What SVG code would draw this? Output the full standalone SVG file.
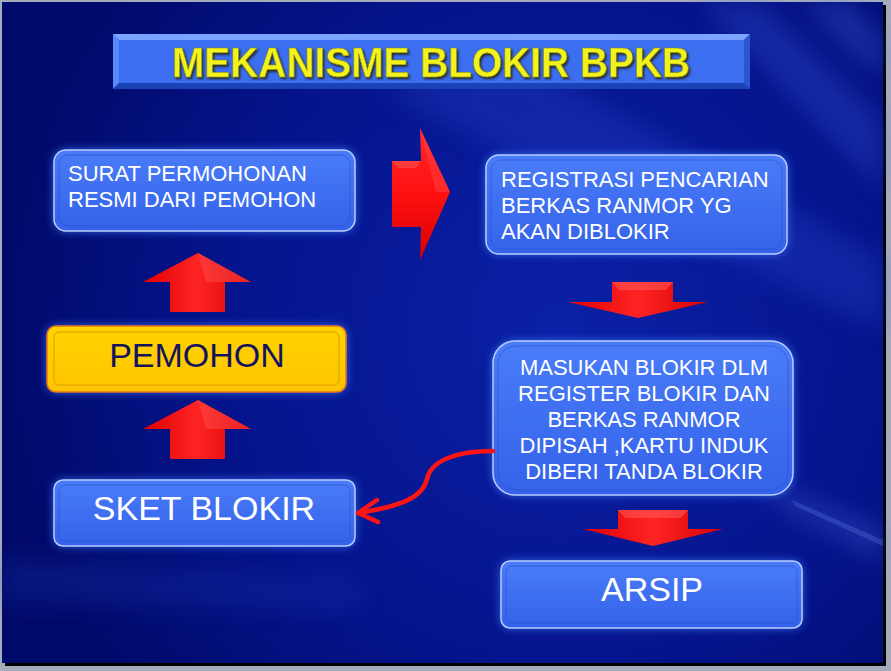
<svg xmlns="http://www.w3.org/2000/svg" width="891" height="671" viewBox="0 0 891 671">
<defs>
  <radialGradient id="bg" cx="560" cy="330" r="560" gradientUnits="userSpaceOnUse">
    <stop offset="0" stop-color="#0a20a6"/>
    <stop offset="0.6" stop-color="#05148c"/>
    <stop offset="1" stop-color="#000a6a"/>
  </radialGradient>
  <linearGradient id="boxFill" x1="0" y1="0" x2="0" y2="1">
    <stop offset="0" stop-color="#4a7cf8"/>
    <stop offset="1" stop-color="#3462ea"/>
  </linearGradient>
  <linearGradient id="yelFill" x1="0" y1="0" x2="0" y2="1">
    <stop offset="0" stop-color="#ffd400"/>
    <stop offset="1" stop-color="#ffc400"/>
  </linearGradient>
  <linearGradient id="redV" x1="0" y1="0" x2="1" y2="0">
    <stop offset="0" stop-color="#e00000"/>
    <stop offset="0.5" stop-color="#ff2424"/>
    <stop offset="1" stop-color="#d80000"/>
  </linearGradient>
  <linearGradient id="redH" x1="0" y1="0" x2="0" y2="1">
    <stop offset="0" stop-color="#ff2a2a"/>
    <stop offset="0.5" stop-color="#ff1010"/>
    <stop offset="1" stop-color="#d80000"/>
  </linearGradient>
  <filter id="glow" x="-20%" y="-30%" width="140%" height="160%">
    <feGaussianBlur stdDeviation="5"/>
  </filter>
  <filter id="soft" x="-20%" y="-50%" width="140%" height="200%">
    <feGaussianBlur stdDeviation="12"/>
  </filter>
  <filter id="tshadow" x="-5%" y="-30%" width="110%" height="160%">
    <feDropShadow dx="1.5" dy="2" stdDeviation="1" flood-color="#20200a" flood-opacity="0.9"/>
  </filter>
</defs>
<style>
  .glow { fill: #3f7cff; opacity: 0.85; filter: url(#glow); }
  .box { fill: url(#boxFill); stroke: #b8ccff; stroke-width: 1.5; }
  .inner { fill: none; stroke: #2a52c8; stroke-width: 1; opacity: 0.6; }
  .ybox { fill: url(#yelFill); stroke: #e8761a; stroke-width: 1.5; }
  .yinner { fill: none; stroke: #d8a000; stroke-width: 1; }
  .t { font-family: "Liberation Sans", Arial, sans-serif; fill: #ffffff; }
  .s22 { font-size: 22px; }
  .s34 { font-size: 34px; }
  .red { stroke: none; }
  .curve { fill: none; stroke: #ff1414; stroke-width: 4.5; stroke-linecap: round; stroke-linejoin: round; }
</style>

<!-- frame -->
<rect x="0" y="0" width="891" height="671" fill="#a4acbc"/>
<rect x="5" y="5" width="881" height="661" fill="#000000"/>
<rect x="2" y="2" width="881" height="661" fill="url(#bg)"/>

<!-- background streaks -->
<g opacity="0.3" filter="url(#soft)">
  <polygon points="700,2 760,2 883,120 883,190" fill="#3a5ae0"/>
  <polygon points="800,2 850,2 883,40 883,80" fill="#4a6af0"/>
  <polygon points="380,90 520,60 883,260 883,330" fill="#2a48d0"/>
  <polygon points="760,480 883,530 883,560 780,505" fill="#5a78f0"/>
  <polygon points="2,560 360,580 360,610 2,600" fill="#1a34b0"/>
</g>
<polygon points="792,500 883,540 883,546 795,506" fill="#5f7ce0" opacity="0.3"/>

<!-- title -->
<g id="title">
  <rect x="113" y="34" width="637" height="55" fill="#2a58d8"/>
  <polygon points="113,34 750,34 744,40 119,40" fill="#7aa4ff"/>
  <polygon points="113,34 119,40 119,83 113,89" fill="#5a88fa"/>
  <polygon points="750,34 750,89 744,83 744,40" fill="#2a56d0"/>
  <polygon points="113,89 119,83 744,83 750,89" fill="#1c42b8"/>
  <rect x="119" y="40" width="625" height="43" fill="#3c6ef2"/>
  <text x="431" y="77" text-anchor="middle" font-family="'Liberation Sans', Arial, sans-serif" font-weight="bold" font-size="42" textLength="518" lengthAdjust="spacingAndGlyphs" fill="#f2f21e" stroke="#8a8a10" stroke-width="0.6" filter="url(#tshadow)">MEKANISME BLOKIR BPKB</text>
</g>

<!-- nodes -->
<g id="surat">
  <rect class="glow" x="54" y="150" width="301" height="81" rx="12"/>
  <rect class="box" x="54" y="150" width="301" height="81" rx="12"/>
  <rect class="inner" x="59" y="155" width="291" height="71" rx="9"/>
  <text class="t s22" x="68" y="181">SURAT PERMOHONAN</text>
  <text class="t s22" x="68" y="207">RESMI DARI PEMOHON</text>
</g>

<g id="registrasi">
  <rect class="glow" x="486" y="155" width="301" height="99" rx="13"/>
  <rect class="box" x="486" y="155" width="301" height="99" rx="13"/>
  <rect class="inner" x="491" y="160" width="291" height="89" rx="10"/>
  <text class="t s22" x="501" y="187">REGISTRASI PENCARIAN</text>
  <text class="t s22" x="501" y="213">BERKAS RANMOR YG</text>
  <text class="t s22" x="501" y="239">AKAN DIBLOKIR</text>
</g>

<g id="pemohon">
  <rect class="glow" x="47" y="326" width="299" height="66" rx="9"/>
  <rect class="ybox" x="47" y="326" width="299" height="66" rx="9"/>
  <rect class="yinner" x="54" y="332" width="285" height="53" rx="5"/>
  <text x="197" y="367" text-anchor="middle" font-family="'Liberation Sans', Arial, sans-serif" font-size="34" fill="#14145e">PEMOHON</text>
</g>

<g id="masukan">
  <rect class="glow" x="493" y="341" width="300" height="154" rx="22"/>
  <rect class="box" x="493" y="341" width="300" height="154" rx="22"/>
  <rect class="inner" x="498" y="346" width="290" height="144" rx="18"/>
  <g text-anchor="middle">
    <text class="t s22" x="644" y="375">MASUKAN BLOKIR DLM</text>
    <text class="t s22" x="644" y="401">REGISTER BLOKIR DAN</text>
    <text class="t s22" x="644" y="427">BERKAS RANMOR</text>
    <text class="t s22" x="644" y="453">DIPISAH ,KARTU INDUK</text>
    <text class="t s22" x="644" y="479">DIBERI TANDA BLOKIR</text>
  </g>
</g>

<g id="sket">
  <rect class="glow" x="54" y="480" width="301" height="66" rx="9"/>
  <rect class="box" x="54" y="480" width="301" height="66" rx="9"/>
  <rect class="inner" x="59" y="485" width="291" height="56" rx="6"/>
  <text class="t s34" x="204" y="520" text-anchor="middle">SKET BLOKIR</text>
</g>

<g id="arsip">
  <rect class="glow" x="501" y="561" width="301" height="67" rx="9"/>
  <rect class="box" x="501" y="561" width="301" height="67" rx="9"/>
  <rect class="inner" x="506" y="566" width="291" height="57" rx="6"/>
  <text class="t s34" x="652" y="601" text-anchor="middle">ARSIP</text>
</g>

<!-- connectors -->
<g id="connectors">
  <!-- right arrow SURAT -> REGISTRASI -->
  <polygon class="red" fill="url(#redH)" points="392,161 421,161 420,128 450,192 420,260 421,227 392,227"/>
  <polygon points="420,128 450,192 436,192" fill="#ff4040" opacity="0.5"/>
  <polygon points="392,161 421,161 416,168 398,168" fill="#ff5a5a" opacity="0.5"/>
  <!-- down arrow REGISTRASI -> MASUKAN -->
  <polygon class="red" fill="url(#redV)" points="612,282 673,282 673,302 708,302 638,318 568,302 612,302"/>
  <polygon points="612,282 673,282 666,290 619,290" fill="#ff6060" opacity="0.5"/>
  <!-- down arrow MASUKAN -> ARSIP -->
  <polygon class="red" fill="url(#redV)" points="618,510 688,510 688,529 723,529 653,546 583,529 618,529"/>
  <polygon points="618,510 688,510 681,518 625,518" fill="#ff6060" opacity="0.5"/>
  <!-- up arrow PEMOHON -> SURAT -->
  <polygon class="red" fill="url(#redV)" points="198,253 251,282 225,282 225,312 170,312 170,282 143,282"/>
  <polygon points="198,253 251,282 206,282" fill="#ff5050" opacity="0.45"/>
  <!-- up arrow SKET -> PEMOHON -->
  <polygon class="red" fill="url(#redV)" points="198,400 251,429 225,429 225,459 170,459 170,429 143,429"/>
  <polygon points="198,400 251,429 206,429" fill="#ff5050" opacity="0.45"/>
  <!-- curved arrow MASUKAN -> SKET -->
  <path class="curve" d="M493,451 C455,451 431,461 427,479 C423,497 402,506 359,513"/>
  <path class="curve" d="M377,500 L358,513 L378,522"/>
</g>
</svg>
